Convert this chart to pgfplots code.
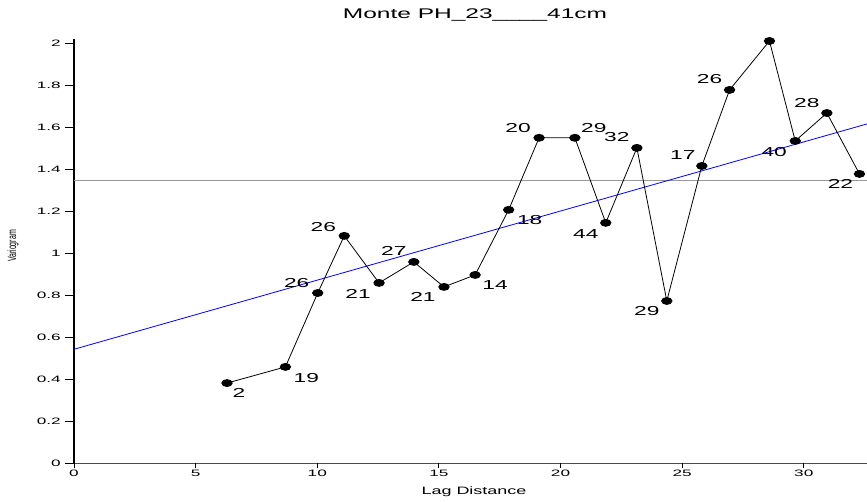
\documentclass[border=0pt]{standalone}
\usepackage{pgfplots}
\pgfplotsset{compat=1.18}
\usepackage{pgfplotstable}
\usepackage{fontspec}
\setmainfont{Liberation Sans}
\usepackage{graphicx}

% lag, semivariance, number of pairs, label offsets (pt)
\pgfplotstableread{
x     y     n  dx  dy
6.29  0.382 2  12  -10
8.69  0.459 19 21  -11
10.02 0.811 26 -21 10
11.11 1.083 26 -21 9
12.54 0.859 21 -21 -11
13.97 0.959 27 -20 11
15.21 0.840 21 -21 -10
16.49 0.897 14 20  -10
17.87 1.207 18 21  -10
19.12 1.550 20 -21 10
20.59 1.550 29 19  10
21.86 1.145 44 -20 -11
23.14 1.502 32 -20 11
24.37 0.773 29 -20 -10
25.81 1.416 17 -19 11
26.95 1.778 26 -20 11
28.59 2.011 {} 0  0
29.65 1.535 40 -21 -11
30.95 1.668 28 -20 10
32.29 1.378 22 -19 -10
}\vario

\pgfplotsset{
  frame/.style={
    at={(74pt,37.7pt)}, anchor=south west,
    scale only axis, width=793pt, height=424.2pt,
    xmin=0, xmax=32.6, ymin=0, ymax=2.02,
  },
}

\begin{document}
\begin{tikzpicture}[x=1pt,y=1pt]
\useasboundingbox (0,0) rectangle (867,501);
\begin{axis}[
  frame,
  clip=false,
  axis x line=bottom, axis y line=left,
  x axis line style={-, draw=black!70, line width=1.3pt},
  y axis line style={-, draw=black, line width=1.3pt},
  xtick={0,5,10,15,20,25,30},
  ytick={0,0.2,0.4,0.6,0.8,1,1.2,1.4,1.6,1.8,2},
  tick align=outside, major tick length=9.5pt,
  tick style={black, line width=0.8pt},
  xtick style={draw=none},
  /pgf/number format/assume math mode=true,
  /pgf/number format/fixed,
  tick label style={font=\fontsize{9.3}{11}\selectfont, xscale=1.85},
  yticklabel style={xshift=1.5pt},
  xticklabel style={yshift=6pt},
]
% constant reference level
\addplot[gray!80, line width=0.8pt] coordinates {(0,1.346) (32.6,1.346)};
% fitted linear model
\addplot[blue, line width=0.8pt] coordinates {(0,0.543) (32.6,1.616)};
% experimental variogram with pair counts
\addplot[black, line width=0.8pt, mark=*, mark size=3.5pt,
  mark options={xscale=1.5, fill=black},
  point meta=explicit symbolic,
  visualization depends on={\thisrow{dx}\as\labdx},
  visualization depends on={\thisrow{dy}\as\labdy},
  nodes near coords,
  every node near coord/.append style={anchor=center, xshift=\labdx, yshift=\labdy,
    font=\fontsize{13}{15}\selectfont, xscale=1.75, text=black, inner sep=0pt},
] table[x=x, y=y, meta=n] {\vario};
\end{axis}
% short tick marks on the lag axis
\begin{axis}[
  frame,
  hide y axis,
  axis x line=bottom,
  x axis line style={draw=none},
  xtick={0,5,10,15,20,25,30},
  xticklabels={},
  tick align=outside, major tick length=5pt,
  tick style={black, line width=0.8pt},
]
\end{axis}
\node[font=\fontsize{14}{16}\selectfont, xscale=1.75] at (475,486) {Monte PH\_23\_\_\_\_41cm};
\node[font=\fontsize{10.7}{12}\selectfont, xscale=1.68] at (474,9) {Lag Distance};
\node[rotate=90, font=\fontsize{7}{9}\selectfont] at (13,255) {\scalebox{1}[1.7]{Variogram}};
\end{tikzpicture}
\end{document}
